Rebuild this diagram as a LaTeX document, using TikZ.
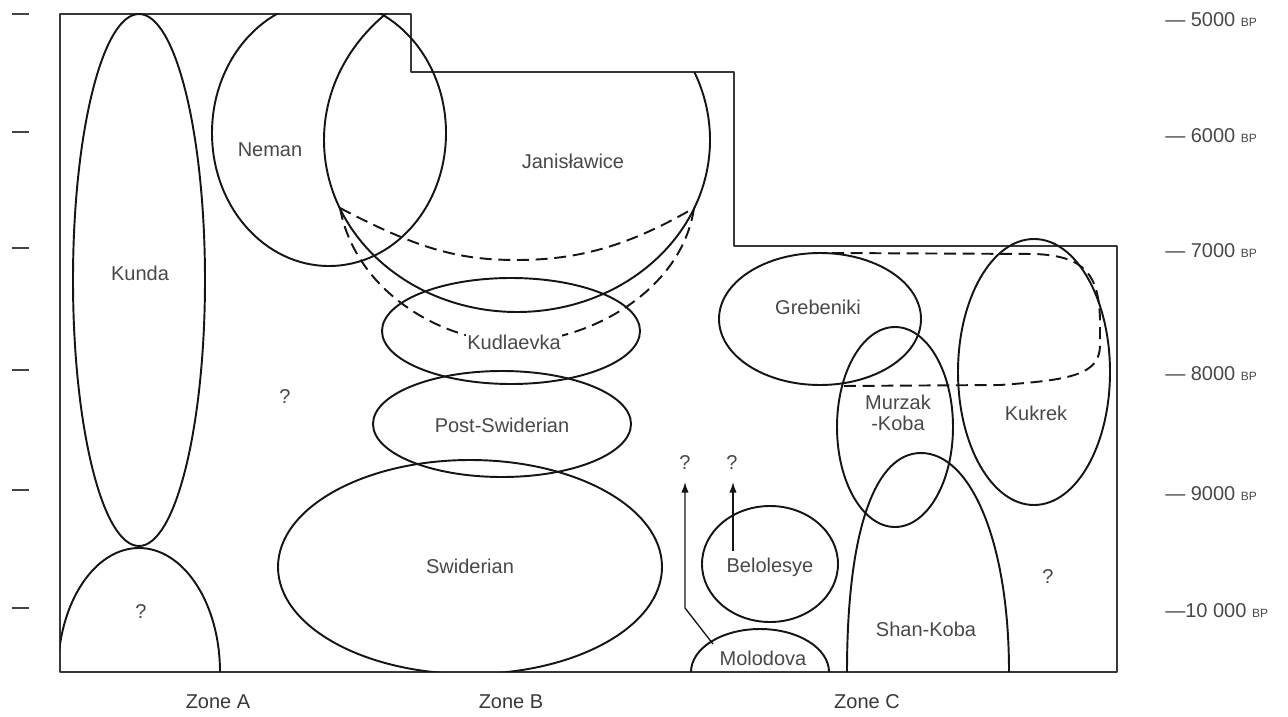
\documentclass[tikz,border=0pt]{standalone}
\usepackage{fontspec}
\setmainfont{Liberation Sans}
\usetikzlibrary{arrows.meta}
\definecolor{ink}{HTML}{151515}
\definecolor{txt}{HTML}{484848}
\begin{document}
\begin{tikzpicture}[x=0.75pt,y=-0.75pt,line join=round,
  outline/.style={draw=ink,line width=1.45pt},
  dashline/.style={draw=ink,line width=1.45pt,dash pattern=on 9pt off 5pt},
  frame/.style={draw=ink!85,line width=0.9pt},
  tick/.style={draw=ink!80,line width=1pt},
  lab/.style={text=txt,font=\fontsize{15}{15.5}\selectfont,inner sep=1pt,align=center},
  zone/.style={text=ink!85,font=\fontsize{15}{16}\selectfont,inner sep=1pt},
  bp/.style={text=txt,font=\fontsize{15}{16}\selectfont,inner sep=0pt,anchor=west},
  arr/.style={draw=ink,line width=1pt,-{Latex[length=8pt,width=5.5pt]}}]
\useasboundingbox (0,0) rectangle (1288,717);

% frame
\draw[frame] (60,14) -- (411,14) -- (411,72) -- (734,72) -- (734,246) -- (1117,246) -- (1117,672) -- (60,672) -- cycle;

% left ticks
\foreach \yy in {14,132,248,370,490,608} \draw[tick] (12,\yy) -- (29,\yy);

% right scale labels
\node[bp] (s5)  at (1165,20)  {— 5000 {\fontsize{9}{9}\selectfont BP}};
\node[bp] (s6)  at (1165,136) {— 6000 {\fontsize{9}{9}\selectfont BP}};
\node[bp] (s7)  at (1165,251) {— 7000 {\fontsize{9}{9}\selectfont BP}};
\node[bp] (s8)  at (1165,374) {— 8000 {\fontsize{9}{9}\selectfont BP}};
\node[bp] (s9)  at (1165,494) {— 9000 {\fontsize{9}{9}\selectfont BP}};
\node[bp] (s10) at (1165,611) {—10 000 {\fontsize{9}{9}\selectfont BP}};

% Kunda
\draw[outline] (139,280) ellipse [x radius=66, y radius=266];

% Neman (cut at the top line)
\begin{scope}
  \clip (0,14) rectangle (1288,717);
  \draw[outline] (329,133) ellipse [x radius=117, y radius=133];
\end{scope}

% shapes clipped by the frame
\begin{scope}
  \clip (60,14) -- (411,14) -- (411,72) -- (734,72) -- (734,246) -- (1117,246) -- (1117,672) -- (60,672) -- cycle;
  \draw[outline] (517,140) ellipse [x radius=193, y radius=172];
  \draw[outline] (470,567) ellipse [x radius=192, y radius=107];
  \draw[outline] (139,672) ellipse [x radius=81, y radius=124];
  \draw[outline] (760,672) ellipse [x radius=69, y radius=43];
\end{scope}

% Janislawice dashed extensions
\coordinate (jl) at (340,208);
\coordinate (jr) at (694,208);
\draw[dashline] (jl) .. controls (420,250) and (460,260) .. (517,260) .. controls (580,260) and (630,245) .. (jr);
\draw[dashline] (jl) .. controls (355,290) and (440,342) .. (514,342) .. controls (590,342) and (682,290) .. (jr);

% Zone B ellipses
\draw[outline] (511,331) ellipse [x radius=129, y radius=53];
\draw[outline] (502,424) ellipse [x radius=129, y radius=53];

% Zone C
\draw[outline] (820,319) ellipse [x radius=101, y radius=66];
\draw[outline] (895,427) ellipse [x radius=58, y radius=100];
\draw[outline] (1034,372) ellipse [x radius=76, y radius=133];
\draw[outline] (770,564) ellipse [x radius=68, y radius=58];
\draw[outline] (847,672) .. controls (847,530) and (875,453) .. (921,453) .. controls (970,453) and (1009,540) .. (1009,672);
\draw[dashline] (832,253) -- (1035,254) .. controls (1085,256) and (1099,275) .. (1100,320) -- (1100,345) .. controls (1100,375) and (1070,380) .. (1000,385) -- (843,386);

% labels
\node[lab] (kunda) at (140,273) {Kunda};
\node[lab] (neman) at (270,150) {Neman};
\node[lab] (jan) at (573,161) {Janisławice};
\node[lab,fill=white] (kud) at (514,342) {Kudlaevka};
\node[lab] (post) at (502,425) {Post-Swiderian};
\node[lab] (swid) at (470,566) {Swiderian};
\node[lab] (qa1) at (285,397) {?};
\node[lab] (qa2) at (141,612) {?};
\node[lab] (greb) at (818,307) {Grebeniki};
\node[lab] (murz) at (898,413) {Murzak\\-Koba};
\node[lab] (kuk) at (1036,413) {Kukrek};
\node[lab] (qc) at (1048,577) {?};
\node[lab] (belo) at (770,567) {Belolesye};
\node[lab] (shan) at (926,629) {Shan-Koba};
\node[lab] (molo) at (763,658) {Molodova};
\node[lab] (q1) at (685,463) {?};
\node[lab] (q2) at (732,463) {?};

% arrows
\coordinate (m1) at (713,644);
\coordinate (m2) at (685,608);
\coordinate (t1) at (685,482);
\coordinate (b1) at (733,551);
\coordinate (t2) at (733,482);
\draw[arr] (m1) -- (m2) -- (t1);
\draw[arr] (b1) -- (t2);

% zones
\node[zone] (za) at (218,702) {Zone A};
\node[zone] (zb) at (511,702) {Zone B};
\node[zone] (zc) at (867,702) {Zone C};
\end{tikzpicture}
\end{document}
